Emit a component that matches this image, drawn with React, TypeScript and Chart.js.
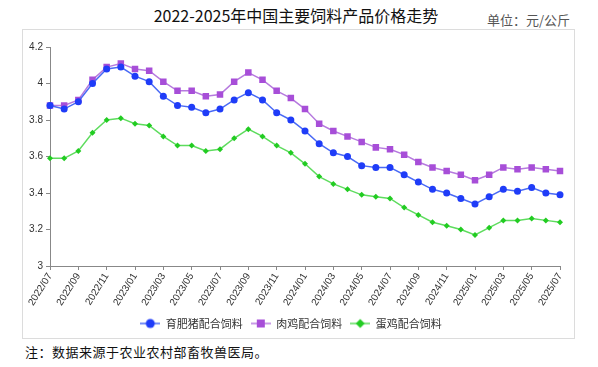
import React, { useEffect, useRef } from "react";
import { Chart, registerables } from "chart.js";

Chart.register(...registerables);

const months = [
  "2022/07", "2022/08", "2022/09", "2022/10", "2022/11", "2022/12",
  "2023/01", "2023/02", "2023/03", "2023/04", "2023/05", "2023/06",
  "2023/07", "2023/08", "2023/09", "2023/10", "2023/11", "2023/12",
  "2024/01", "2024/02", "2024/03", "2024/04", "2024/05", "2024/06",
  "2024/07", "2024/08", "2024/09", "2024/10", "2024/11", "2024/12",
  "2025/01", "2025/02", "2025/03", "2025/04", "2025/05", "2025/06",
  "2025/07",
];

const pigFeed = [
  3.88, 3.86, 3.90, 4.00, 4.08, 4.09, 4.04, 4.01, 3.93, 3.88, 3.87,
  3.84, 3.86, 3.91, 3.95, 3.91, 3.84, 3.80, 3.74, 3.67, 3.62, 3.60, 3.55, 3.54, 3.54,
  3.50, 3.46, 3.42, 3.40, 3.37, 3.34, 3.38, 3.42, 3.41, 3.43, 3.40, 3.39,
];
const broilerFeed = [
  3.88, 3.88, 3.91, 4.02, 4.09, 4.11, 4.08, 4.07, 4.01, 3.96, 3.96,
  3.93, 3.94, 4.01, 4.06, 4.02, 3.96, 3.92, 3.86, 3.78, 3.74, 3.71, 3.68, 3.65, 3.64,
  3.61, 3.57, 3.54, 3.52, 3.50, 3.47, 3.50, 3.54, 3.53, 3.54, 3.53, 3.52,
];
const layerFeed = [
  3.59, 3.59, 3.63, 3.73, 3.80, 3.81, 3.78, 3.77, 3.71, 3.66, 3.66,
  3.63, 3.64, 3.70, 3.75, 3.71, 3.66, 3.62, 3.56, 3.49, 3.45, 3.42, 3.39, 3.38, 3.37,
  3.32, 3.28, 3.24, 3.22, 3.20, 3.17, 3.21, 3.25, 3.25, 3.26, 3.25, 3.24,
];

const seriesNames = ["育肥猪配合饲料", "肉鸡配合饲料", "蛋鸡配合饲料"];
const yTicks = { min: 3, max: 4.2, step: 0.2 };

function legendIcon(line: string, fill: string, style: string, r: number) {
  const c = document.createElement("canvas");
  c.width = 20;
  c.height = 12;
  const g = c.getContext("2d")!;
  g.strokeStyle = line;
  g.lineWidth = 1.5;
  g.beginPath();
  g.moveTo(0, 6);
  g.lineTo(20, 6);
  g.stroke();
  g.fillStyle = fill;
  g.beginPath();
  if (style === "circle") {
    g.arc(10, 6, r, 0, Math.PI * 2);
  } else if (style === "rect") {
    g.rect(10 - r, 6 - r, 2 * r, 2 * r);
  } else {
    g.moveTo(10, 6 - r);
    g.lineTo(10 + r, 6);
    g.lineTo(10, 6 + r);
    g.lineTo(10 - r, 6);
    g.closePath();
  }
  g.fill();
  return c;
}

export default function App() {
  const ref = useRef<HTMLCanvasElement | null>(null);

  useEffect(() => {
    if (!ref.current) return;
    const colors = [
      { line: "#4a6af5", fill: "#1f3cf8", style: "circle", r: 3.5, lr: 4.5 },
      { line: "#b67ade", fill: "#a74ed8", style: "rect", r: 4.6, lr: 4 },
      { line: "#5edc5e", fill: "#22cc22", style: "rectRot", r: 3, lr: 4.5 },
    ];
    const values = [pigFeed, broilerFeed, layerFeed];
    const icons = colors.map((c) => legendIcon(c.line, c.fill, c.style, c.lr));

    const chart = new Chart(ref.current, {
      type: "line",
      data: {
        labels: months,
        datasets: values.map((v, i) => ({
          label: seriesNames[i],
          data: v,
          borderColor: colors[i].line,
          backgroundColor: colors[i].fill,
          pointBackgroundColor: colors[i].fill,
          pointBorderColor: colors[i].fill,
          pointBorderWidth: 0,
          pointStyle: colors[i].style as any,
          pointRadius: colors[i].r,
          borderWidth: 1.5,
          tension: 0,
        })),
      },
      options: {
        animation: false,
        responsive: false,
        maintainAspectRatio: false,
        layout: { padding: { left: 0, right: 15, top: 18, bottom: 0 } },
        plugins: {
          title: { display: false },
          tooltip: { enabled: false },
          legend: {
            position: "bottom",
            labels: {
              usePointStyle: true,
              pointStyleWidth: 20,
              padding: 8,
              color: "#333",
              font: { family: "'Noto Sans CJK SC', sans-serif", size: 11 },
              generateLabels: (ch: any) =>
                ch.data.datasets.map((d: any, i: number) => ({
                  text: d.label,
                  pointStyle: icons[i],
                  datasetIndex: i,
                  hidden: false,
                  fillStyle: colors[i].fill,
                  strokeStyle: colors[i].line,
                  lineWidth: 0,
                  fontColor: "#333",
                })),
            },
          },
        },
        scales: {
          x: {
            type: "category",
            offset: false,
            afterFit: (s: any) => {
              s.height = 44;
            },
            border: { display: true, color: "#888", width: 1 },
            grid: {
              drawOnChartArea: false,
              drawTicks: true,
              tickLength: 4,
              tickColor: (ctx: any) => (ctx.index % 2 === 0 ? "#888" : "rgba(0,0,0,0)"),
            },
            ticks: {
              autoSkip: false,
              minRotation: 58,
              maxRotation: 58,
              padding: 1,
              color: "#333",
              font: { family: "'Liberation Sans', Arial, sans-serif", size: 10 },
              callback: function (this: any, value: any, index: number) {
                return index % 2 === 0 ? months[index] : "";
              },
            },
          },
          y: {
            min: yTicks.min,
            max: yTicks.max,
            afterFit: (s: any) => {
              s.width = 28;
            },
            border: { display: true, color: "#888", width: 1 },
            grid: { drawOnChartArea: false, drawTicks: true, tickLength: 4, tickColor: "#888" },
            ticks: {
              stepSize: yTicks.step,
              padding: 3,
              color: "#333",
              font: { family: "'Liberation Sans', Arial, sans-serif", size: 10 },
              callback: (v: any) => String(Number(Number(v).toFixed(1))),
            },
          },
        },
      },
    });
    return () => chart.destroy();
  }, []);

  return (
    <div
      style={{
        position: "absolute",
        left: 0,
        top: 0,
        width: 598,
        height: 367,
        background: "#fff",
        overflow: "hidden",
        fontFamily: "'Noto Sans CJK SC', sans-serif",
      }}
    >
      <div
        style={{
          position: "absolute",
          left: 0,
          width: 592,
          top: 4,
          textAlign: "center",
          fontSize: 16,
          lineHeight: "22px",
          color: "#111",
        }}
      >
        2022-2025年中国主要饲料产品价格走势
      </div>
      <div
        style={{
          position: "absolute",
          left: 487,
          top: 11,
          fontSize: 13,
          lineHeight: "18px",
          color: "#555",
        }}
      >
        单位：元/公斤
      </div>
      <div
        style={{
          position: "absolute",
          left: 22,
          top: 29,
          width: 553,
          height: 310,
          boxSizing: "border-box",
          border: "1px solid #dcdcdc",
        }}
      />
      <canvas
        ref={ref}
        width={553}
        height={310}
        style={{ position: "absolute", left: 22, top: 29, width: 553, height: 310 }}
      />
      <div
        style={{
          position: "absolute",
          left: 25,
          top: 343,
          fontSize: 13,
          lineHeight: "18px",
          color: "#111",
          letterSpacing: 0.5,
        }}
      >
        注：数据来源于农业农村部畜牧兽医局。
      </div>
    </div>
  );
}
